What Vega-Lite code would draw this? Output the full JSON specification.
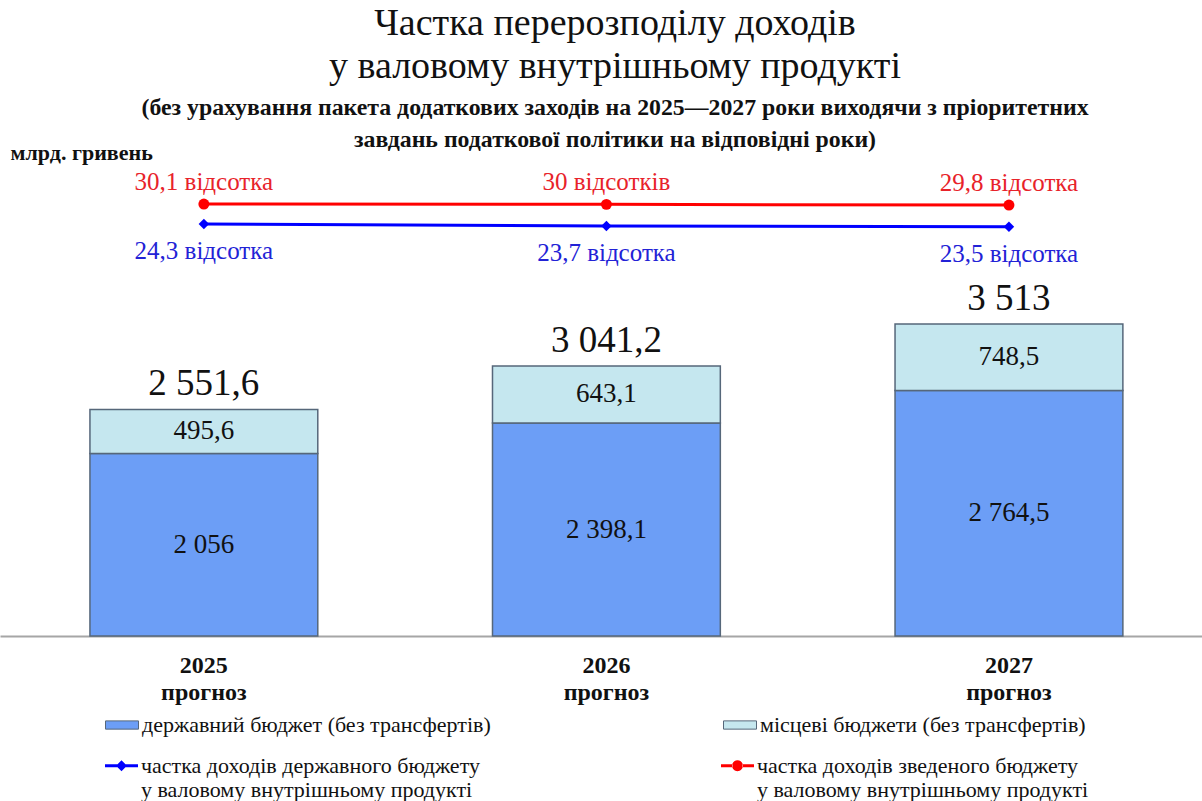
{
  "$schema": "https://vega.github.io/schema/vega-lite/v6.json",
  "width": 1202,
  "height": 476,
  "autosize": {"type": "none"},
  "padding": {"top": 160, "left": 0, "right": 0, "bottom": 165},
  "background": "white",
  "config": {
    "locale": {"number": {"decimal": ",", "thousands": " ", "grouping": [3], "currency": ["", ""]}},
    "view": {"stroke": null},
    "font": "Liberation Serif",
    "title": {"font": "Liberation Serif", "subtitleFont": "Liberation Serif"},
    "axis": {"titleFont": "Liberation Serif", "labelFont": "Liberation Serif"},
    "text": {"font": "Liberation Serif"},
    "legend": {"symbolStrokeWidth": 0, "labelFont": "Liberation Serif"}
  },
  "title": {
    "text": ["Частка перерозподілу доходів", "у валовому внутрішньому продукті"],
    "subtitle": ["(без урахування  пакета додаткових заходів на 2025—2027 роки виходячи з пріоритетних", "завдань податкової політики на відповідні роки)"],
    "anchor": "middle",
    "font": "Liberation Serif",
    "fontSize": 38,
    "fontWeight": "normal",
    "lineHeight": 43,
    "color": "#111111",
    "subtitleFont": "Liberation Serif",
    "subtitleFontSize": 23.8,
    "subtitleFontWeight": "bold",
    "subtitleLineHeight": 32,
    "subtitleColor": "#111111",
    "subtitlePadding": 10,
    "offset": -11,
    "dx": 14
  },
  "datasets": {
    "budget": [
      {"year": "2025", "part": "державний бюджет (без трансфертів)", "value": 2056},
      {"year": "2025", "part": "місцеві бюджети (без трансфертів)", "value": 495.6},
      {"year": "2026", "part": "державний бюджет (без трансфертів)", "value": 2398.1},
      {"year": "2026", "part": "місцеві бюджети (без трансфертів)", "value": 643.1},
      {"year": "2027", "part": "державний бюджет (без трансфертів)", "value": 2764.5},
      {"year": "2027", "part": "місцеві бюджети (без трансфертів)", "value": 748.5}
    ],
    "shares": [
      {"year": "2025", "ind": "частка доходів державного бюджету\nу валовому внутрішньому продукті", "value": 24.3, "label": "24,3 відсотка"},
      {"year": "2026", "ind": "частка доходів державного бюджету\nу валовому внутрішньому продукті", "value": 23.7, "label": "23,7 відсотка"},
      {"year": "2027", "ind": "частка доходів державного бюджету\nу валовому внутрішньому продукті", "value": 23.5, "label": "23,5 відсотка"},
      {"year": "2025", "ind": "частка доходів зведеного бюджету\nу валовому внутрішньому продукті", "value": 30.1, "label": "30,1 відсотка"},
      {"year": "2026", "ind": "частка доходів зведеного бюджету\nу валовому внутрішньому продукті", "value": 30, "label": "30 відсотків"},
      {"year": "2027", "ind": "частка доходів зведеного бюджету\nу валовому внутрішньому продукті", "value": 29.8, "label": "29,8 відсотка"}
    ]
  },
  "encoding": {
    "x": {
      "field": "year",
      "type": "nominal",
      "scale": {"type": "band", "paddingInner": 0.434, "paddingOuter": 0.21, "align": 0.532},
      "axis": {
        "title": null,
        "labelAngle": 0,
        "labelExpr": "[datum.label, 'прогноз']",
        "labelFont": "Liberation Serif",
        "labelFontSize": 24,
        "labelFontWeight": "bold",
        "labelColor": "#111111",
        "labelLineHeight": 27,
        "labelPadding": 17,
        "ticks": false,
        "grid": false,
        "domainColor": "#a6a6a6",
        "domainWidth": 2
      }
    }
  },
  "layer": [
    {
      "data": {"name": "budget"},
      "layer": [
        {
          "mark": {"type": "bar", "stroke": "#56677a", "strokeWidth": 1.5},
          "encoding": {
            "y": {
              "field": "value", "type": "quantitative", "stack": "zero",
              "scale": {"domain": [0, 5360]},
              "axis": {"title": "млрд. гривень", "titleAngle": 0, "titleAlign": "left", "titleBaseline": "middle", "titleX": 10, "titleY": -8, "titleFont": "Liberation Serif", "titleFontSize": 22, "titleFontWeight": "bold", "titleColor": "#111111", "labels": false, "ticks": false, "domain": false, "grid": false}
            },
            "order": {"field": "part", "sort": "ascending"},
            "fill": {
              "field": "part", "type": "nominal",
              "scale": {"domain": ["державний бюджет (без трансфертів)", "місцеві бюджети (без трансфертів)"], "range": ["#6c9ef6", "#c5e7ef"]},
              "legend": {
                "title": null, "orient": "none", "legendX": 105, "legendY": 548, "direction": "horizontal", "columns": 2, "columnPadding": 230, "padding": 0,
                "symbolType": "M-1,-0.25H1V0.25H-1Z", "symbolSize": 1089, "symbolStrokeColor": "#56677a", "symbolStrokeWidth": 1,
                "labelFont": "Liberation Serif", "labelFontSize": 22, "labelColor": "#111111", "labelOffset": 3, "labelLimit": 600
              }
            }
          }
        },
        {
          "transform": [
            {"stack": "value", "groupby": ["year"], "sort": [{"field": "part", "order": "ascending"}], "as": ["v0", "v1"]},
            {"fold": ["v0", "v1"], "as": ["bound_key", "bound"]},
            {"aggregate": [{"op": "mean", "field": "bound", "as": "mid"}], "groupby": ["year", "part", "value"]}
          ],
          "mark": {"type": "text", "fontSize": 27, "color": "#111111", "font": "Liberation Serif"},
          "encoding": {
            "y": {
              "field": "mid", "type": "quantitative", "scale": {"domain": [0, 5360]},
              "axis": {"title": "млрд. гривень", "titleAngle": 0, "titleAlign": "left", "titleBaseline": "middle", "titleX": 10, "titleY": -8, "titleFont": "Liberation Serif", "titleFontSize": 22, "titleFontWeight": "bold", "titleColor": "#111111", "labels": false, "ticks": false, "domain": false, "grid": false}
            },
            "text": {"field": "value", "type": "quantitative", "format": ",.1~f"}
          }
        },
        {
          "transform": [{"aggregate": [{"op": "sum", "field": "value", "as": "total"}], "groupby": ["year"]}],
          "mark": {"type": "text", "fontSize": 37, "dy": -25, "color": "#111111", "font": "Liberation Serif"},
          "encoding": {
            "y": {
              "field": "total", "type": "quantitative", "scale": {"domain": [0, 5360]},
              "axis": {"title": "млрд. гривень", "titleAngle": 0, "titleAlign": "left", "titleBaseline": "middle", "titleX": 10, "titleY": -8, "titleFont": "Liberation Serif", "titleFontSize": 22, "titleFontWeight": "bold", "titleColor": "#111111", "labels": false, "ticks": false, "domain": false, "grid": false}
            },
            "text": {"field": "total", "type": "quantitative", "format": ",.1~f"}
          }
        }
      ]
    },
    {
      "data": {"name": "shares"},
      "layer": [
        {
          "transform": [{"filter": {"field": "ind", "equal": "частка доходів державного бюджету\nу валовому внутрішньому продукті"}}],
          "mark": {"type": "line", "strokeWidth": 3, "color": "#0000ff"},
          "encoding": {"y": {"field": "value", "type": "quantitative", "scale": {"domain": [-95.19, 42.87]}, "axis": null}}
        },
        {
          "transform": [{"filter": {"field": "ind", "equal": "частка доходів зведеного бюджету\nу валовому внутрішньому продукті"}}],
          "mark": {"type": "line", "strokeWidth": 3, "color": "#ff0000"},
          "encoding": {"y": {"field": "value", "type": "quantitative", "scale": {"domain": [-95.19, 42.87]}, "axis": null}}
        },
        {
          "transform": [{"filter": {"field": "ind", "equal": "частка доходів державного бюджету\nу валовому внутрішньому продукті"}}],
          "mark": {"type": "point", "shape": "diamond", "filled": true, "size": 110, "opacity": 1, "color": "#0000ff"},
          "encoding": {"y": {"field": "value", "type": "quantitative", "scale": {"domain": [-95.19, 42.87]}, "axis": null}}
        },
        {
          "transform": [{"filter": {"field": "ind", "equal": "частка доходів зведеного бюджету\nу валовому внутрішньому продукті"}}],
          "mark": {"type": "point", "shape": "circle", "filled": true, "size": 120, "opacity": 1, "color": "#ff0000"},
          "encoding": {"y": {"field": "value", "type": "quantitative", "scale": {"domain": [-95.19, 42.87]}, "axis": null}}
        },
        {
          "transform": [{"filter": {"field": "ind", "equal": "частка доходів зведеного бюджету\nу валовому внутрішньому продукті"}}],
          "mark": {"type": "text", "fontSize": 25, "dy": -22, "color": "#e8222a", "font": "Liberation Serif"},
          "encoding": {
            "y": {"field": "value", "type": "quantitative", "scale": {"domain": [-95.19, 42.87]}, "axis": null},
            "text": {"field": "label"}
          }
        },
        {
          "transform": [{"filter": {"field": "ind", "equal": "частка доходів державного бюджету\nу валовому внутрішньому продукті"}}],
          "mark": {"type": "text", "fontSize": 25, "dy": 27, "color": "#2222d6", "font": "Liberation Serif"},
          "encoding": {
            "y": {"field": "value", "type": "quantitative", "scale": {"domain": [-95.19, 42.87]}, "axis": null},
            "text": {"field": "label"}
          }
        },
        {
          "mark": {"type": "point", "filled": true, "size": 0, "opacity": 1},
          "encoding": {
            "y": {"field": "value", "type": "quantitative", "scale": {"domain": [-95.19, 42.87]}, "axis": null},
            "color": {
              "field": "ind", "type": "nominal",
              "scale": {"domain": ["частка доходів державного бюджету\nу валовому внутрішньому продукті", "частка доходів зведеного бюджету\nу валовому внутрішньому продукті"], "range": ["#0000ff", "#ff0000"]},
              "legend": {
                "title": null, "orient": "none", "legendX": 105, "legendY": 589, "direction": "horizontal", "columns": 2, "columnPadding": 241, "padding": 0,
                "symbolSize": 1089, "symbolStrokeWidth": 0,
                "labelFont": "Liberation Serif", "labelFontSize": 22, "labelColor": "#111111", "labelOffset": 3, "labelLimit": 600,
                "labelExpr": "split(datum.label, '\\n')", "labelBaseline": "middle", "labelLineHeight": 20
              }
            },
            "shape": {
              "field": "ind", "type": "nominal",
              "scale": {"domain": ["частка доходів державного бюджету\nу валовому внутрішньому продукті", "частка доходів зведеного бюджету\nу валовому внутрішньому продукті"], "range": ["M-1,-0.09H1V0.09H-1Z M0,-0.33L0.33,0L0,0.33L-0.33,0Z", "M-1,-0.09H-0.3V0.09H-1Z M0.3,-0.09H1V0.09H0.3Z M-0.33,0A0.33,0.33 0 1,0 0.33,0A0.33,0.33 0 1,0 -0.33,0Z"]},
              "legend": {
                "title": null, "orient": "none", "legendX": 105, "legendY": 589, "direction": "horizontal", "columns": 2, "columnPadding": 241, "padding": 0,
                "symbolSize": 1089, "symbolStrokeWidth": 0,
                "labelFont": "Liberation Serif", "labelFontSize": 22, "labelColor": "#111111", "labelOffset": 3, "labelLimit": 600,
                "labelExpr": "split(datum.label, '\\n')", "labelBaseline": "middle", "labelLineHeight": 20
              }
            }
          }
        }
      ]
    }
  ],
  "resolve": {"scale": {"y": "independent"}}
}
